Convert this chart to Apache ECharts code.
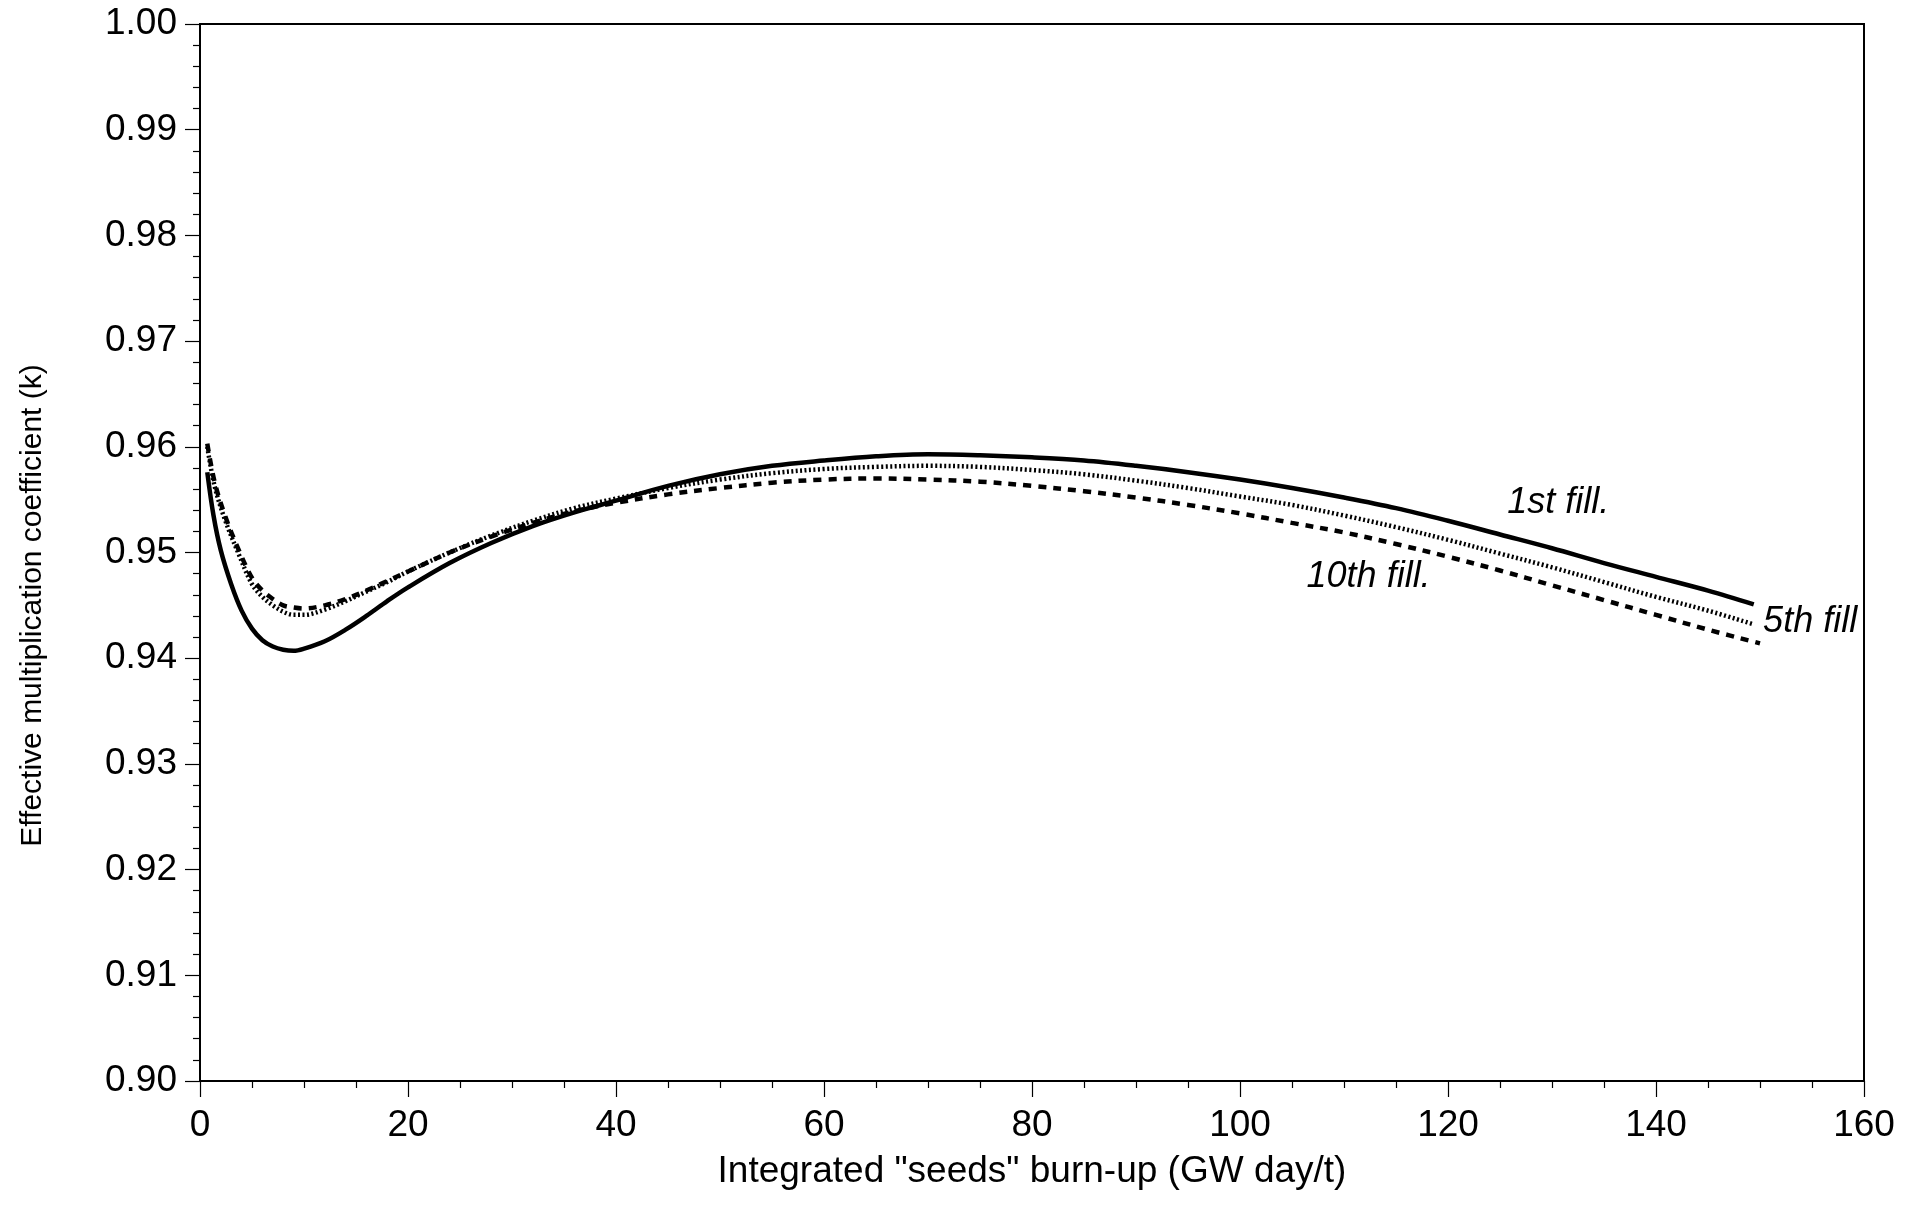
<!DOCTYPE html>
<html>
<head>
<meta charset="utf-8">
<script src="https://cdn.jsdelivr.net/npm/echarts@6/dist/echarts.min.js"></script>
<style>
  html, body { margin: 0; padding: 0; background: #fff; }
  #chart { width: 1919px; height: 1226px; }
</style>
</head>
<body>
<div id="chart"></div>
<script>
// Burn-up (GW day/t) sample points and k-effective for each fill
const fill1Burnup = [0.7, 1.3, 2, 3, 4, 5, 6, 7, 8, 9, 10, 12, 14, 16, 18, 20, 24, 28, 32, 36, 40, 45, 50, 55, 60, 65, 70, 75, 80, 85, 90, 95, 100, 105, 110, 115, 120, 125, 130, 135, 140, 145, 149.4];
const fill1K      = [0.9576, 0.9535, 0.9502, 0.9470, 0.9445, 0.9428, 0.9417, 0.9411, 0.9408, 0.9407, 0.9409, 0.9416, 0.9427, 0.9440, 0.9454, 0.9467, 0.9490, 0.9509, 0.9525, 0.9538, 0.9549, 0.9563, 0.9574, 0.9582, 0.9587, 0.9591, 0.9593, 0.9592, 0.9590, 0.9587, 0.9582, 0.9576, 0.9569, 0.9561, 0.9552, 0.9542, 0.9530, 0.9517, 0.9504, 0.9490, 0.9477, 0.9464, 0.9451];

const fill5Burnup = [0.7, 1.4, 2.4, 3.7, 5, 6, 7, 8, 9, 10, 12, 14, 16, 18, 20, 24, 28, 32, 36, 40, 45, 50, 55, 60, 65, 70, 75, 80, 85, 90, 95, 100, 105, 110, 115, 120, 125, 130, 135, 140, 145, 149.4];
const fill5K      = [0.9600, 0.9563, 0.9531, 0.9499, 0.9470, 0.9458, 0.9450, 0.9444, 0.9441, 0.9441, 0.9446, 0.9454, 0.9463, 0.9472, 0.9482, 0.9500, 0.9516, 0.9530, 0.9542, 0.9551, 0.9561, 0.9569, 0.9575, 0.9579, 0.9581, 0.9582, 0.9581, 0.9578, 0.9574, 0.9568, 0.9561, 0.9553, 0.9545, 0.9535, 0.9524, 0.9512, 0.9499, 0.9486, 0.9472, 0.9458, 0.9445, 0.9432];

const fill10Burnup = [0.7, 1.4, 2.4, 3.7, 5, 6, 7, 8, 9, 10, 12, 14, 16, 18, 20, 24, 28, 32, 36, 40, 45, 50, 55, 60, 65, 70, 75, 80, 85, 90, 95, 100, 105, 110, 115, 120, 125, 130, 135, 140, 145, 150];
const fill10K      = [0.9603, 0.9567, 0.9535, 0.9503, 0.9476, 0.9464, 0.9456, 0.9450, 0.9448, 0.9447, 0.9450, 0.9456, 0.9464, 0.9473, 0.9482, 0.9500, 0.9515, 0.9528, 0.9539, 0.9547, 0.9555, 0.9561, 0.9566, 0.9569, 0.9570, 0.9569, 0.9567, 0.9563, 0.9558, 0.9552, 0.9545, 0.9537, 0.9528, 0.9519, 0.9508, 0.9496, 0.9483, 0.9469, 0.9455, 0.9441, 0.9427, 0.9414];

// Curve annotations: burn-up, k, text
const curveLabels = [
  [125.7, 0.9547, '1st fill.'],
  [106.4, 0.9477, '10th fill.'],
  [150.3, 0.9434, '5th fill']
];

const xTitle = 'Integrated "seeds" burn-up (GW day/t)';
const yTitle = 'Effective multiplication coefficient (k)';

const FONT = '"Liberation Sans", Arial, Helvetica, sans-serif';

function pairs(xs, ys) { return xs.map((x, i) => [x, ys[i]]); }

const chart = echarts.init(document.getElementById('chart'), null, { renderer: 'canvas' });

const lineBase = {
  type: 'line',
  showSymbol: false,
  smooth: 0.35,
  silent: true,
  z: 3
};

chart.setOption({
  animation: false,
  backgroundColor: '#fff',
  grid: {
    left: 200, right: 55, top: 24, bottom: 145,
    show: true, borderColor: '#000', borderWidth: 2, backgroundColor: 'transparent'
  },
  xAxis: {
    type: 'value', min: 0, max: 160, interval: 20,
    name: xTitle, nameLocation: 'middle', nameGap: 72,
    nameTextStyle: { fontFamily: FONT, fontSize: 37, color: '#000' },
    axisLine: { show: true, lineStyle: { color: '#000', width: 2 } },
    axisTick: { show: true, length: 16, lineStyle: { color: '#000', width: 1.2 } },
    minorTick: { show: true, splitNumber: 4, length: 7, lineStyle: { color: '#000', width: 1.2 } },
    axisLabel: { fontFamily: FONT, fontSize: 37, color: '#000', margin: 26 },
    splitLine: { show: false }
  },
  yAxis: {
    type: 'value', min: 0.90, max: 1.00, interval: 0.01,
    name: yTitle, nameLocation: 'middle', nameGap: 152, nameRotate: 90,
    nameTextStyle: { fontFamily: FONT, fontSize: 30, color: '#000', padding: [0, 106, 0, 0] },
    axisLine: { show: true, lineStyle: { color: '#000', width: 2 } },
    axisTick: { show: true, length: 15, lineStyle: { color: '#000', width: 1.2 } },
    minorTick: { show: true, splitNumber: 5, length: 7, lineStyle: { color: '#000', width: 1.2 } },
    axisLabel: {
      fontFamily: FONT, fontSize: 37, color: '#000', margin: 23,
      formatter: v => v.toFixed(2)
    },
    splitLine: { show: false }
  },
  series: [
    Object.assign({}, lineBase, {
      name: '1st fill.',
      data: pairs(fill1Burnup, fill1K),
      lineStyle: { color: '#000', width: 4.5, type: 'solid' }
    }),
    Object.assign({}, lineBase, {
      name: '5th fill',
      data: pairs(fill5Burnup, fill5K),
      lineStyle: { color: '#000', width: 4.5, type: [2, 2.5], cap: 'butt' }
    }),
    Object.assign({}, lineBase, {
      name: '10th fill.',
      data: pairs(fill10Burnup, fill10K),
      lineStyle: { color: '#000', width: 4.5, type: [8, 7], cap: 'butt' }
    }),
    {
      type: 'scatter',
      silent: true,
      symbolSize: 0,
      itemStyle: { opacity: 1 },
      data: curveLabels,
      z: 5,
      label: {
        show: true, position: 'right', distance: 0,
        formatter: p => p.value[2],
        fontFamily: FONT, fontSize: 36, fontStyle: 'italic', color: '#000'
      }
    }
  ]
});
</script>
</body>
</html>
